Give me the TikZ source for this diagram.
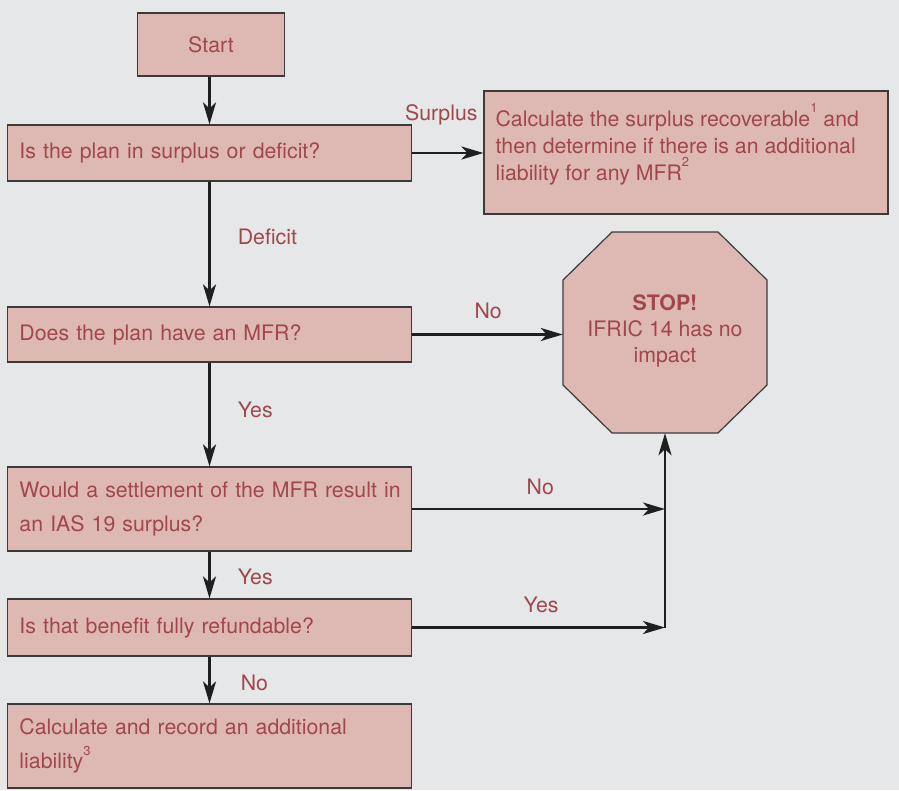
\documentclass[tikz,border=0pt]{standalone}
\usepackage{fontspec}
\setmainfont{TeX Gyre Heros}
\usepackage{tikz}
\usetikzlibrary{arrows.meta, calc}
\definecolor{bgcol}{HTML}{E6E7E9}
\definecolor{boxfill}{HTML}{DEB9B3}
\definecolor{boxtext}{HTML}{A1474B}
\definecolor{edgecol}{HTML}{3A3A3A}
\newcommand{\fnote}[1]{\raisebox{0.62em}{\fontsize{13}{13}\selectfont #1}}
\tikzset{>={Stealth[length=22pt,width=13pt,inset=6pt]}}
\tikzset{
  qbox/.style={draw=edgecol, line width=1.2pt, fill=boxfill, text=boxtext,
    font=\fontsize{21.3}{27}\selectfont, align=left, text width=380pt,
    inner xsep=12pt, inner ysep=0pt},
  lbl/.style={text=boxtext, font=\fontsize{21.3}{26}\selectfont, inner sep=0pt},
  arr/.style={->, line width=2.7pt, draw=black!88},
  octo/.style={draw=edgecol, line width=1.2pt, fill=boxfill}
}

\begin{document}
\begin{tikzpicture}[x=1pt, y=-1pt]
    \fill [bgcol] (0,0) rectangle (899,790);
    \useasboundingbox (0,0) rectangle (899,790);
    \node [qbox, text width=123pt, align=center, minimum height=63pt] (start) at (211,44.5) {Start};
    \node [qbox, minimum height=56pt] (plan) at (209.5,153) {Is the plan in surplus or deficit?};
    \node [qbox, minimum height=123pt] (recover) at (686,152.5) {};
    \node [lbl, font=\fontsize{21.3}{27}\selectfont, align=left, anchor=north west] (recovertext) at ($(recover.north west)+(12,13)$) {Calculate the surplus recoverable\fnote{1} and\\then determine if there is an additional\\liability for any MFR\fnote{2}};
    \node [qbox, minimum height=55pt] (mfr) at (209.5,334.5) {Does the plan have an MFR?};
    \node [qbox, minimum height=84pt, font=\fontsize{21.3}{33.5}\selectfont] (settle) at (209.5,509) {\mbox{Would a settlement of the MFR result in}\\an IAS 19 surplus?};
    \node [qbox, minimum height=57pt] (refund) at (209.5,627.5) {Is that benefit fully refundable?};
    \node [qbox, minimum height=84pt, font=\fontsize{21.3}{34}\selectfont] (record) at (209.5,746) {Calculate and record an additional\\liability\fnote{3}};
    \draw [octo] (612,232) -- (718,232) -- (767,280) -- (767,385) -- (718,433) -- (612,433) -- (563,385) -- (563,280) -- cycle;
    \node [lbl, align=center, minimum width=204pt, minimum height=205pt] (stop) at (665,330.5) {\textbf{STOP!}\\IFRIC 14 has no\\impact};
    \coordinate (joinA) at (stop.south |- settle.east);
    \coordinate (joinB) at (stop.south |- refund.east);
    \draw [arr] (start.south -| plan.north) -- (plan.north);
    \draw [arr] (plan.east) -- (plan.east -| recover.west) node [lbl, pos=.41, anchor=base, yshift=33pt] {Surplus};
    \draw [arr] (plan.south) -- (mfr.north) node [lbl, pos=.44, right=27pt] {Deficit};
    \draw [arr] (mfr.east) -- (mfr.east -| stop.west) node [lbl, pos=.505, anchor=base, yshift=16.5pt] {No};
    \draw [arr] (mfr.south) -- (settle.north) node [lbl, pos=.46, right=27pt] {Yes};
    \draw [arr] (settle.east) -- (joinA) node [lbl, pos=.507, anchor=base, yshift=15pt] {No};
    \draw [arr] (settle.south) -- (refund.north) node [lbl, pos=.54, right=27pt] {Yes};
    \draw [arr] (refund.east) -- (joinB) node [lbl, pos=.51, anchor=base, yshift=15.5pt] {Yes};
    \draw [arr] (joinB) -- (stop.south);
    \draw [arr] (refund.south) -- (record.north) node [lbl, pos=.56, right=30pt] {No};
\end{tikzpicture}
\end{document}
